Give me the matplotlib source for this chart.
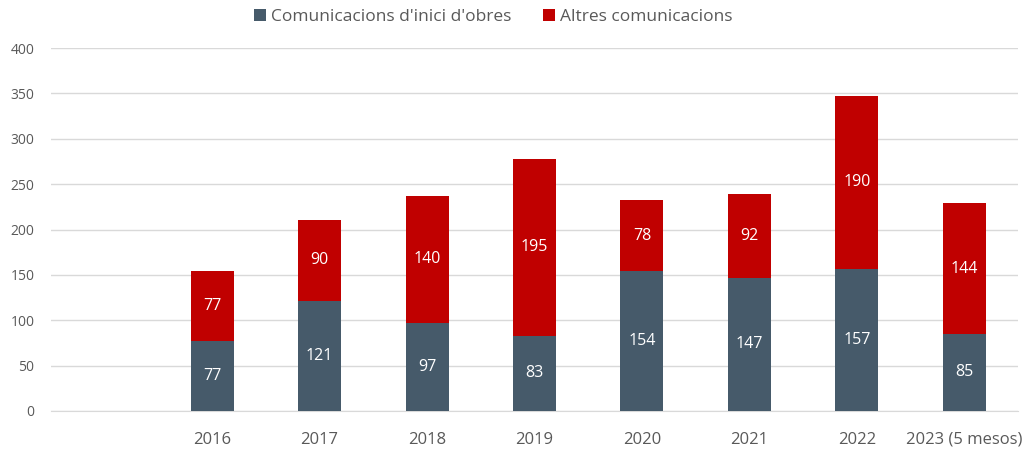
import numpy as np
import matplotlib.pyplot as plt

plt.rcParams['font.family'] = ['Open Sans', 'DejaVu Sans']

categories = ['', '2016', '2017', '2018', '2019', '2020', '2021', '2022', '2023 (5 mesos)']
inici_obres = [np.nan, 77, 121, 97, 83, 154, 147, 157, 85]
altres = [np.nan, 77, 90, 140, 195, 78, 92, 190, 144]
series_names = ["Comunicacions d'inici d'obres", "Altres comunicacions"]
yticks = [0, 50, 100, 150, 200, 250, 300, 350, 400]

c_dark = '#465A6A'
c_red = '#C00000'

fig = plt.figure(figsize=(10.28, 4.49), dpi=100)
ax = fig.add_axes([51 / 1028, 38 / 449, 967 / 1028, 363 / 449])

x = np.arange(len(categories))
a = np.array(inici_obres, dtype=float)
b = np.array(altres, dtype=float)
b1 = ax.bar(x, a, width=0.4, color=c_dark, label=series_names[0], zorder=3)
b2 = ax.bar(x, b, width=0.4, bottom=a, color=c_red, label=series_names[1], zorder=3)

for xi, v in zip(x, a):
    if not np.isnan(v):
        ax.text(xi, v / 2, f'{int(v)}', ha='center', va='center', color='white', fontsize=11.5, zorder=4)
for xi, base, v in zip(x, a, b):
    if not np.isnan(v):
        ax.text(xi, base + v / 2, f'{int(v)}', ha='center', va='center', color='white', fontsize=11.5, zorder=4)

ax.set_xlim(-0.5, len(categories) - 0.5)
ax.set_ylim(0, 400)
ax.set_yticks(yticks)
ax.set_xticks(x)
ax.set_xticklabels(categories, fontsize=12, color='#595959')
ax.tick_params(axis='y', labelsize=10, colors='#595959', length=0, pad=12)
ax.tick_params(axis='x', length=0, pad=15)
ax.grid(axis='y', color='#D9D9D9', linewidth=1, zorder=0)
for s in ['top', 'right', 'left']:
    ax.spines[s].set_visible(False)
ax.spines['bottom'].set_color('#D9D9D9')

fig.legend(handles=[b1, b2], loc='upper center', bbox_to_anchor=(0.48, 1.015), ncol=2, frameon=False,
           fontsize=12.5, handlelength=0.7, handleheight=0.7, handletextpad=0.3, columnspacing=1.8,
           labelcolor='#595959')

fig.savefig('out.png', dpi=100)
